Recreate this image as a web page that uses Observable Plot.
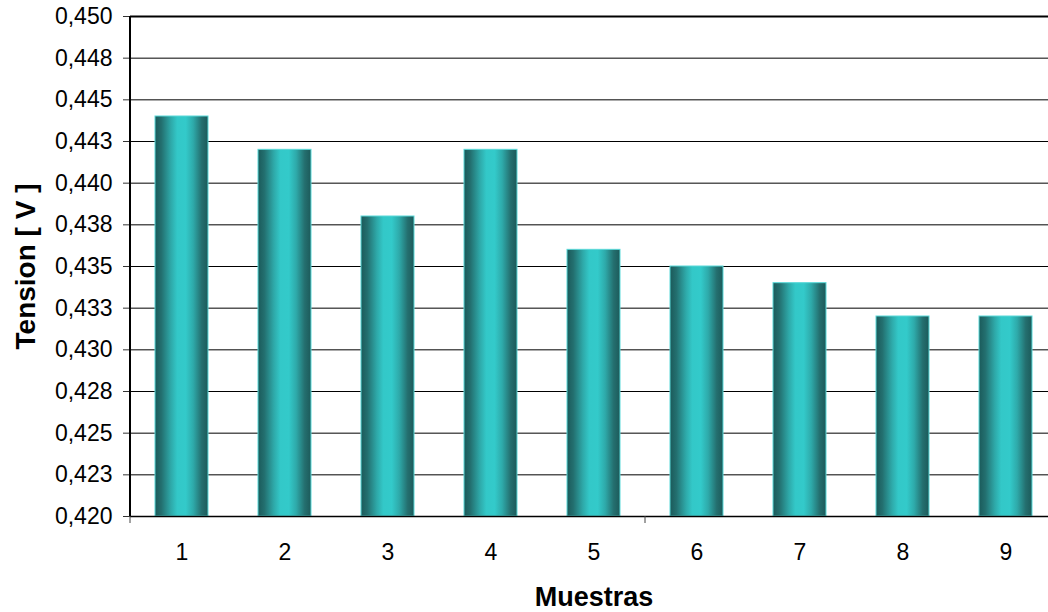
<!DOCTYPE html>
<html>
<head>
<meta charset="utf-8">
<script src="https://cdn.jsdelivr.net/npm/d3@7"></script>
<script src="https://cdn.jsdelivr.net/npm/@observablehq/plot@0.6"></script>
<style>
  html, body { margin: 0; padding: 0; background: #fff; }
</style>
</head>
<body>
<div id="chart"></div>
<script>
const samples = ["1", "2", "3", "4", "5", "6", "7", "8", "9"];
const values = [0.444, 0.442, 0.438, 0.442, 0.436, 0.435, 0.434, 0.432, 0.432];
const yTicks = [0.420, 0.4225, 0.425, 0.4275, 0.430, 0.4325, 0.435, 0.4375, 0.440, 0.4425, 0.445, 0.4475, 0.450];
const yTickLabels = ["0,420", "0,423", "0,425", "0,428", "0,430", "0,433", "0,435", "0,438", "0,440", "0,443", "0,445", "0,448", "0,450"];
const xTickBoundaries = [0, 5];
const yMin = 0.420, yMax = 0.450;
const yTitle = "Tension [ V ]";
const xTitle = "Muestras";

const data = samples.map((s, i) => ({sample: s, value: values[i]}));

function boundary(x, i) {
  const step = x.step ? x.step() : (x(samples[1]) - x(samples[0]));
  const bw = x.bandwidth ? x.bandwidth() : 0;
  if (i < samples.length) return x(samples[i]) - (step - bw) / 2;
  return x(samples[samples.length - 1]) + bw + (step - bw) / 2;
}

const decorations = (index, scales) => {
  const g = d3.create("svg:g");
  const defs = g.append("defs");
  const grad = defs.append("linearGradient").attr("id", "cyl").attr("x1", 0).attr("x2", 1).attr("y1", 0).attr("y2", 0);
  [[0, "#1b5a5a"], [0.12, "#236f6f"], [0.3, "#2ea9a9"], [0.42, "#33c8c8"], [0.58, "#33caca"], [0.72, "#2eaaaa"], [0.88, "#246f6f"], [1, "#1c5a5a"]]
    .forEach(([o, c]) => grad.append("stop").attr("offset", o).attr("stop-color", c));
  const x = scales.x, y = scales.y;
  const x0 = boundary(x, 0);
  g.append("line").attr("x1", x0).attr("x2", x0).attr("y1", y(yMin)).attr("y2", y(yMax))
    .attr("stroke", "#000").attr("stroke-width", 2);
  xTickBoundaries.forEach(i => {
    const xb = boundary(x, i);
    g.append("line").attr("x1", xb).attr("x2", xb).attr("y1", y(yMin)).attr("y2", y(yMin) + 7)
      .attr("stroke", "#444").attr("stroke-width", 1);
  });
  return g.node();
};

const plot = Plot.plot({
  width: 1048,
  height: 612,
  marginTop: 16,
  marginLeft: 130,
  marginRight: -9,
  marginBottom: 96,
  style: {fontFamily: "'Liberation Sans', Arial, sans-serif", fontSize: "23px", color: "#000", background: "#fff"},
  x: {type: "band", domain: samples, range: [130, 1057], paddingInner: 0.485, paddingOuter: 0.2425},
  y: {domain: [yMin, yMax], range: [516, 16]},
  marks: [
    Plot.ruleY(yTicks.slice(1, -1), {stroke: "#000", strokeWidth: 1}),
    Plot.barY(data, {x: "sample", y1: yMin, y2: "value", fill: "url(#cyl)", stroke: "#5ad9d9", strokeWidth: 1}),
    Plot.ruleY([yMax], {stroke: "#000", strokeWidth: 2}),
    Plot.ruleY([yMin], {stroke: "#000", strokeWidth: 1.5}),
    Plot.axisY({
      ticks: yTicks,
      tickFormat: d => yTickLabels[yTicks.indexOf(d)],
      tickSize: 7,
      tickPadding: 11,
      stroke: "#333",
      label: null
    }),
    Plot.axisX({
      tickSize: 0,
      tickPadding: 27,
      label: null
    }),
    Plot.text([yTitle], {
      text: d => d, frameAnchor: "left", rotate: -90, textAnchor: "middle", lineAnchor: "top",
      dx: -115, fontWeight: "bold", fontSize: 28, fill: "#000"
    }),
    Plot.text([xTitle], {
      text: d => d, frameAnchor: "bottom", textAnchor: "middle", lineAnchor: "bottom",
      dy: 89, fontWeight: "bold", fontSize: 27, fill: "#000"
    }),
    decorations
  ]
});
document.getElementById("chart").appendChild(plot);
</script>
</body>
</html>
